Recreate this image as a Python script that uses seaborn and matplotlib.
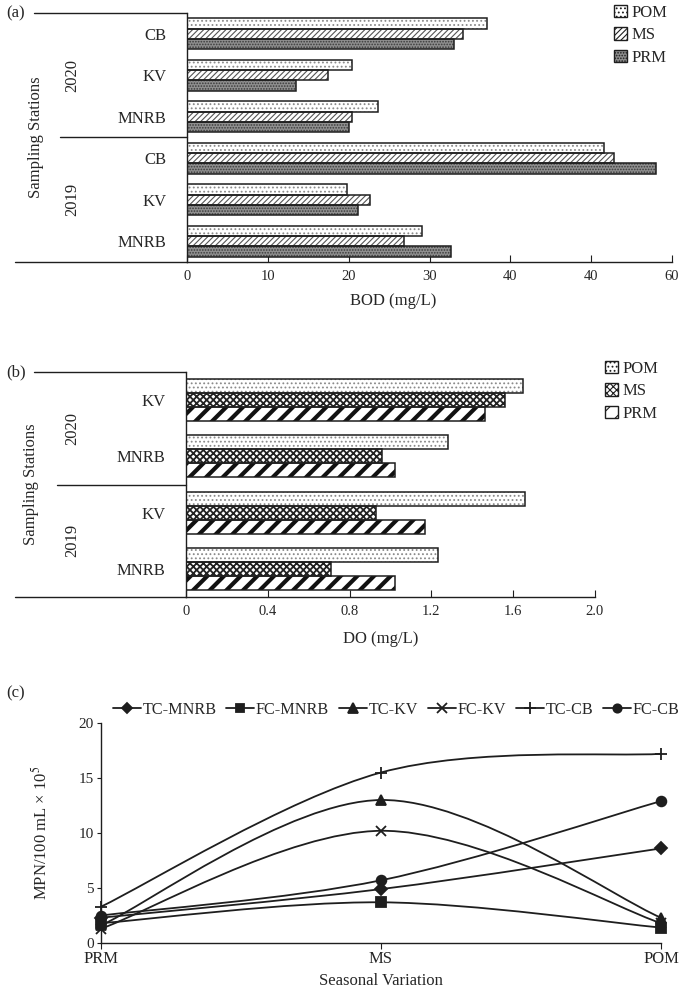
import numpy as np
import pandas as pd
import matplotlib
matplotlib.use("Agg")
import matplotlib.pyplot as plt
import seaborn as sns
from matplotlib.path import Path
from matplotlib.patches import PathPatch, Patch
from matplotlib.lines import Line2D
from matplotlib.transforms import blended_transform_factory

# ---------------- data ----------------
seasons_bar = ["POM", "MS", "PRM"]

bod_years = ["2020", "2020", "2020", "2019", "2019", "2019"]
bod_stations = ["CB", "KV", "MNRB", "CB", "KV", "MNRB"]
bod_pom = [37.1, 20.4, 23.6, 51.6, 19.8, 29.1]
bod_ms = [34.1, 17.4, 20.4, 52.8, 22.6, 26.9]
bod_prm = [33.0, 13.5, 20.0, 58.0, 21.2, 32.7]
bod_ticks = [0, 10, 20, 30, 40, 50, 60]
bod_ticklabels = ["0", "10", "20", "30", "40", "40", "60"]

do_years = ["2020", "2020", "2019", "2019"]
do_stations = ["KV", "MNRB", "KV", "MNRB"]
do_pom = [1.65, 1.28, 1.66, 1.23]
do_ms = [1.56, 0.96, 0.93, 0.71]
do_prm = [1.46, 1.02, 1.17, 1.02]
do_ticks = [0, 0.4, 0.8, 1.2, 1.6, 2.0]
do_ticklabels = ["0", "0.4", "0.8", "1.2", "1.6", "2.0"]

seasons_line = ["PRM", "MS", "POM"]
series_names = ["TC-MNRB", "FC-MNRB", "TC-KV", "FC-KV", "TC-CB", "FC-CB"]
tc_mnrb = [2.3, 4.9, 8.6]
fc_mnrb = [1.8, 3.7, 1.4]
tc_kv = [1.6, 13.0, 2.3]
fc_kv = [1.3, 10.2, 1.8]
tc_cb = [3.3, 15.5, 17.2]
fc_cb = [2.5, 5.7, 12.9]
mpn_ticks = [0, 5, 10, 15, 20]

# ---------------- style ----------------
sns.set_theme(style="white")
plt.rcParams["font.family"] = ["Liberation Serif", "DejaVu Serif"]
plt.rcParams["mathtext.fontset"] = "stix"
plt.rcParams["hatch.linewidth"] = 0.8
INK = "#1e1e1e"

W, H = 685, 990
fig = plt.figure(figsize=(W / 100, H / 100), dpi=100)


def box(l, t, r, b):
    return [l / W, 1 - b / H, (r - l) / W, (b - t) / H]


ax_a = fig.add_axes(box(187, 13, 672, 262))
ax_b = fig.add_axes(box(186, 372, 595, 597))
ax_c = fig.add_axes(box(101, 723, 661, 943))


def long_frame(years, stations, pom, ms, prm):
    rows = [f"{y} {s}" for y, s in zip(years, stations)]
    df = pd.DataFrame({
        "row": rows * 3,
        "season": ["POM"] * len(rows) + ["MS"] * len(rows) + ["PRM"] * len(rows),
        "value": list(pom) + list(ms) + list(prm),
    })
    return rows, df


def draw_bars(ax, years, stations, pom, ms, prm, specs, ticks, ticklabels,
              xlabel, xlabel_pos, line_x0, sst_x, panel):
    rows, df = long_frame(years, stations, pom, ms, prm)
    sns.barplot(data=df, y="row", x="value", hue="season", order=rows,
                hue_order=seasons_bar, orient="h", width=0.75, errorbar=None,
                legend=False, palette={s: specs[s][0] for s in seasons_bar},
                linewidth=0, ax=ax)
    for cont, s in zip(ax.containers, seasons_bar):
        fc, hatch, hc, hlw = specs[s]
        for p in cont:
            p.set_facecolor(fc)
            p.set_hatch(hatch)
            p.set_edgecolor(hc)
            p.set_linewidth(0)
            if hasattr(p, "set_hatch_linewidth"):
                p.set_hatch_linewidth(hlw)
    # outlines
    sns.barplot(data=df, y="row", x="value", hue="season", order=rows,
                hue_order=seasons_bar, orient="h", width=0.75, errorbar=None,
                legend=False, fill=False,
                palette={s: INK for s in seasons_bar}, linewidth=1.1, ax=ax)
    n = len(rows)
    ax.set_ylim(n - 0.5, -0.5)
    ax.set_xlim(ticks[0], ticks[-1])
    ax.set_xticks(ticks)
    ax.set_xticklabels(ticklabels)
    ax.set_yticks(range(n))
    ax.set_yticklabels(stations)
    ax.set_ylabel("")
    ax.set_xlabel(xlabel, fontsize=12)
    ax.xaxis.set_label_coords(*xlabel_pos)
    for side in ["top", "right"]:
        ax.spines[side].set_visible(False)
    for side in ["left", "bottom"]:
        ax.spines[side].set_color(INK)
        ax.spines[side].set_linewidth(1.0)
    ax.tick_params(axis="x", direction="in", length=5, width=0.8, color=INK,
                   labelsize=10.5, pad=6, bottom=True)
    ax.tick_params(axis="y", length=0, labelsize=12, pad=15)
    # category separator lines
    trans = blended_transform_factory(fig.transFigure, ax.transData)
    x_right = ax.get_position().x0
    ybreak = [i for i in range(1, n) if years[i] != years[i - 1]][0] - 0.5
    for yv, x0 in zip([-0.5, ybreak, n - 0.5], line_x0):
        ax.plot([x0 / W, x_right], [yv, yv], transform=trans, clip_on=False,
                color=INK, lw=1.0)
    # year labels
    for yr in dict.fromkeys(years):
        idx = [i for i, y in enumerate(years) if y == yr]
        ax.text(72 / W, np.mean(idx), yr, transform=trans, rotation=90,
                ha="center", va="center", fontsize=12)
    pos = ax.get_position()
    fig.text(sst_x / W, (pos.y0 + pos.y1) / 2, "Sampling Stations",
             rotation=90, ha="center", va="center", fontsize=12)
    fig.text(6 / W, pos.y1, panel, ha="left", va="center", fontsize=12)


specs_a = {
    "POM": ("white", "....", "#8a8a8a", 0.8),
    "MS": ("white", "//////", "#555555", 0.8),
    "PRM": ("#8f8f8f", "......", "#3a3a3a", 0.8),
}
specs_b = {
    "POM": ("white", "....", "#8a8a8a", 0.8),
    "MS": ("white", "xxxxx", "#222222", 1.3),
    "PRM": ("white", "//", "#111111", 3.0),
}

draw_bars(ax_a, bod_years, bod_stations, bod_pom, bod_ms, bod_prm, specs_a,
          bod_ticks, bod_ticklabels, "BOD (mg/L)", (0.425, -0.125),
          [34, 60, 15], 36, "(a)")
draw_bars(ax_b, do_years, do_stations, do_pom, do_ms, do_prm, specs_b,
          do_ticks, do_ticklabels, "DO (mg/L)", (0.477, -0.15),
          [34, 57, 15], 31, "(b)")


def bar_legend(specs, x, y):
    handles = []
    for s in seasons_bar:
        fc, hatch, hc, hlw = specs[s]
        handles.append(Patch(facecolor=fc, hatch=hatch, edgecolor=INK, lw=1.0))
    fig.legend(handles, seasons_bar, loc="upper left", bbox_to_anchor=(x, y),
               frameon=False, fontsize=12, handlelength=0.8, handleheight=0.8,
               handletextpad=0.25, labelspacing=0.38, borderpad=0.1,
               borderaxespad=0)


bar_legend(specs_a, 612 / W, 1 - 3 / H)
bar_legend(specs_b, 603 / W, 1 - 359 / H)

# ---------------- panel (c) ----------------
series_values = [tc_mnrb, fc_mnrb, tc_kv, fc_kv, tc_cb, fc_cb]
markers = {"TC-MNRB": "D", "FC-MNRB": "s", "TC-KV": "^", "FC-KV": "x",
           "TC-CB": "+", "FC-CB": "o"}
msizes = {"TC-MNRB": 6, "FC-MNRB": 7, "TC-KV": 7.5, "FC-KV": 7.5,
          "TC-CB": 9, "FC-CB": 7}


def smooth_path(xs, ys, t=1 / 6):
    P = np.column_stack([xs, ys]).astype(float)
    n = len(P)
    verts = [P[0]]
    codes = [Path.MOVETO]
    for i in range(n - 1):
        p_prev = P[i - 1] if i > 0 else P[i]
        p_next2 = P[i + 2] if i + 2 < n else P[i + 1]
        c1 = P[i] + (P[i + 1] - p_prev) * t
        c2 = P[i + 1] - (p_next2 - P[i]) * t
        verts += [c1, c2, P[i + 1]]
        codes += [Path.CURVE4] * 3
    return Path(verts, codes)


for name, vals in zip(series_names, series_values):
    xs = np.arange(len(seasons_line))
    ax_c.add_patch(PathPatch(smooth_path(xs, vals), facecolor="none",
                             edgecolor=INK, lw=1.3, zorder=3))
    sns.lineplot(x=seasons_line, y=vals, sort=False, ax=ax_c, color=INK,
                 marker=markers[name], markersize=msizes[name],
                 markeredgewidth=1.3, markeredgecolor=INK,
                 markerfacecolor=INK, linestyle="none", clip_on=False,
                 zorder=4)

ax_c.set_xlim(0, len(seasons_line) - 1)
ax_c.set_ylim(mpn_ticks[0], mpn_ticks[-1])
ax_c.set_yticks(mpn_ticks)
ax_c.set_yticklabels([str(t) for t in mpn_ticks])
for side in ["top", "right"]:
    ax_c.spines[side].set_visible(False)
for side in ["left", "bottom"]:
    ax_c.spines[side].set_color(INK)
    ax_c.spines[side].set_linewidth(1.0)
ax_c.tick_params(axis="x", direction="out", length=4, width=0.8, color=INK,
                 labelsize=12, pad=2, bottom=True)
ax_c.tick_params(axis="y", direction="out", length=3, width=0.8, color=INK,
                 labelsize=11, pad=2, left=True)
ax_c.set_xlabel("Seasonal Variation", fontsize=12)
ax_c.xaxis.set_label_coords(0.5, -0.135)
ax_c.set_ylabel("MPN/100 mL × 10$^5$", fontsize=12)
ax_c.yaxis.set_label_coords(-0.09, 0.5)

handles = [Line2D([], [], color=INK, lw=1.3, marker=markers[n],
                  markersize=msizes[n] - 1, markeredgewidth=1.3)
           for n in series_names]
fig.legend(handles, series_names, loc="center", bbox_to_anchor=(0.578, 1 - 710 / H),
           ncol=6, frameon=False, fontsize=11.6, handlelength=1.75,
           handletextpad=0.1, columnspacing=0.6, borderpad=0, borderaxespad=0)
fig.text(6 / W, 1 - 693 / H, "(c)", ha="left", va="center", fontsize=12)

fig.savefig("out.png", dpi=100)
